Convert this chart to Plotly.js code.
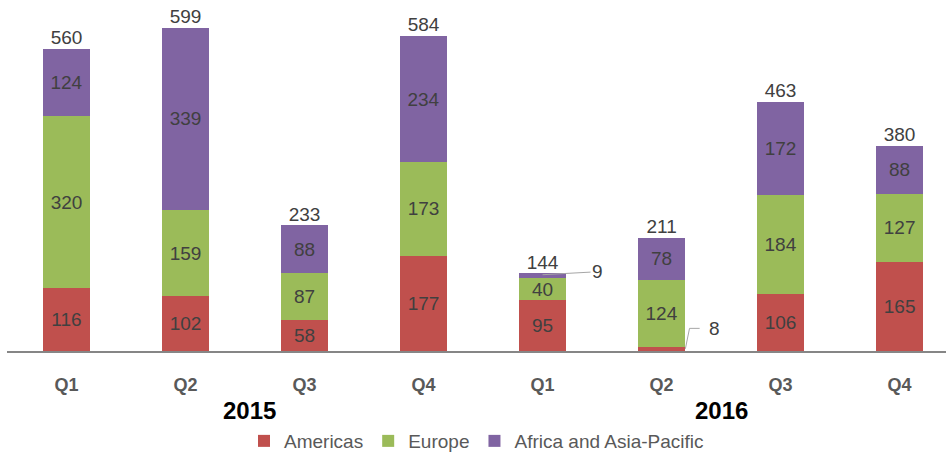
<!DOCTYPE html>
<html>
<head>
<meta charset="utf-8">
<script src="https://cdn.plot.ly/plotly-3.0.1.min.js"></script>
<style>html,body{margin:0;padding:0;background:#fff;}#chart{width:950px;height:454px;}</style>
</head>
<body>
<div id="chart"></div>
<script>
var quarters = ["Q1", "Q2", "Q3", "Q4", "Q1", "Q2", "Q3", "Q4"];
var years = ["2015", "2016"];
var americas = [116, 102, 58, 177, 95, 8, 106, 165];
var europe = [320, 159, 87, 173, 40, 124, 184, 127];
var africaAsia = [124, 339, 88, 234, 9, 78, 172, 88];
var totals = [560, 599, 233, 584, 144, 211, 463, 380];

var idx = quarters.map(function (q, i) { return i; });
var FONT = "Liberation Sans, Arial, sans-serif";
var LBL = "#404040";

function labels(arr) {
  return arr.map(function (v) { return v >= 20 ? String(v) : ""; });
}

function barTrace(name, vals, color) {
  return {
    type: "bar", name: name, x: idx, y: vals,
    marker: { color: color, line: { width: 0 } },
    text: labels(vals), textposition: "inside", insidetextanchor: "middle",
    textangle: 0, constraintext: "none",
    textfont: { family: FONT, size: 19, color: LBL },
    hoverinfo: "skip", width: 0.4
  };
}

var traces = [
  barTrace("Americas", americas, "#C0504D"),
  barTrace("Europe", europe, "#9BBB59"),
  barTrace("Africa and Asia-Pacific", africaAsia, "#8064A2"),
  {
    type: "scatter", mode: "text", x: idx, y: totals,
    text: totals.map(String), textposition: "top center",
    textfont: { family: FONT, size: 19, color: LBL },
    showlegend: false, hoverinfo: "skip", cliponaxis: false
  }
];

var annotations = [
  { x: 1.5, y: 0, xref: "x", yref: "y", yanchor: "top", yshift: -44, xshift: 4,
    text: "<b>" + years[0] + "</b>", showarrow: false,
    font: { family: FONT, size: 24, color: "#000000" } },
  { x: 5.5, y: 0, xref: "x", yref: "y", yanchor: "top", yshift: -44,
    text: "<b>" + years[1] + "</b>", showarrow: false,
    font: { family: FONT, size: 24, color: "#000000" } },
  // small value label for Africa and Asia-Pacific, 2016 Q1
  { x: 4, y: totals[4] - africaAsia[4] / 2 + 2, xref: "x", yref: "y",
    text: String(africaAsia[4]), showarrow: true, arrowhead: 0, arrowwidth: 1,
    arrowcolor: "#A6A6A6", ax: 55, ay: -3, standoff: 0,
    font: { family: FONT, size: 19, color: LBL } },
  // small value label for Americas, 2016 Q2
  { x: 5, y: americas[5], xref: "x", yref: "y", xshift: 53, yshift: 18,
    text: String(americas[5]), showarrow: false,
    font: { family: FONT, size: 19, color: LBL } }
];

var shapes = [
  { type: "path", xref: "x", yref: "y",
    path: "M 5.2 " + (americas[5] / 2) + " L 5.235 42 L 5.32 42",
    line: { color: "#A6A6A6", width: 1 } }
];

var layout = {
  width: 950, height: 454,
  margin: { l: 7, r: 4, t: 10, b: 103, autoexpand: false },
  paper_bgcolor: "#ffffff", plot_bgcolor: "#ffffff",
  barmode: "stack",
  showlegend: true,
  legend: { orientation: "h", x: 0.5, xanchor: "center", y: -0.264, yanchor: "middle",
    font: { family: FONT, size: 19, color: "#595959" }, traceorder: "normal",
    itemclick: false, itemdoubleclick: false, itemwidth: 30 },
  xaxis: {
    type: "linear", range: [-0.5, 7.39], automargin: false,
    tickmode: "array", tickvals: idx, ticktext: quarters,
    showgrid: false, zeroline: false, showline: true, linecolor: "#868686", linewidth: 1.5,
    ticks: "", ticklabelstandoff: 17,
    tickfont: { family: FONT, size: 18, color: "#595959", weight: "bold" }
  },
  yaxis: {
    range: [0, 632.6], visible: false, showgrid: false, zeroline: false, automargin: false
  },
  annotations: annotations,
  shapes: shapes,
  font: { family: FONT }
};

Plotly.newPlot("chart", traces, layout, { displayModeBar: false, staticPlot: true });
</script>
</body>
</html>
